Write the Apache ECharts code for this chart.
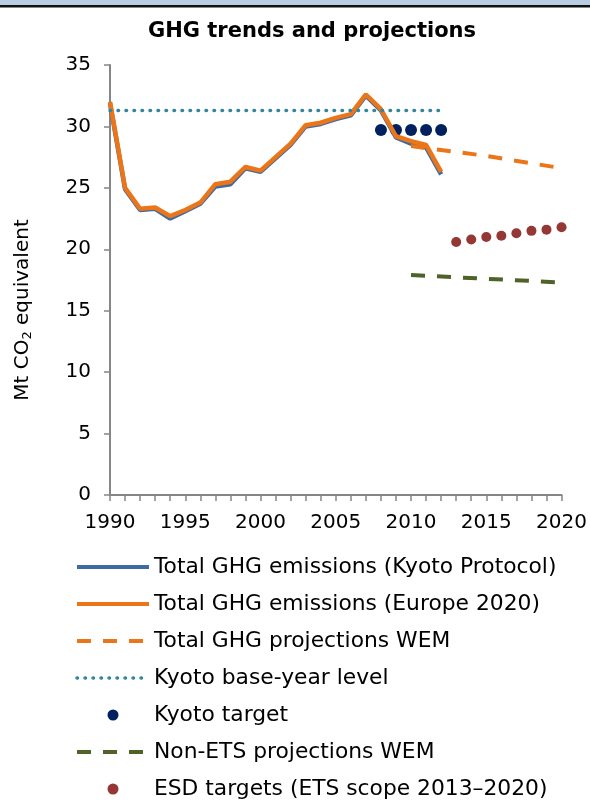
<!DOCTYPE html>
<html>
<head>
<meta charset="utf-8">
<script src="https://cdn.jsdelivr.net/npm/echarts@6/dist/echarts.min.js"></script>
<style>
  html, body { margin: 0; padding: 0; background: #fff; }
  #chart { width: 590px; height: 800px; }
</style>
</head>
<body>
<div id="chart"></div>
<script>
// 历史排放 1990-2012
const years = [1990, 1991, 1992, 1993, 1994, 1995, 1996, 1997, 1998, 1999, 2000, 2001,
  2002, 2003, 2004, 2005, 2006, 2007, 2008, 2009, 2010, 2011, 2012];
const kyotoTotal = [31.9, 24.9, 23.2, 23.3, 22.5, 23.1, 23.7, 25.1, 25.3, 26.6, 26.3, 27.4,
  28.5, 30.0, 30.2, 30.6, 30.9, 32.5, 31.3, 29.1, 28.6, 28.3, 26.1];
const europeTotal = [32.0, 25.0, 23.3, 23.4, 22.7, 23.2, 23.8, 25.3, 25.5, 26.7, 26.4, 27.5,
  28.6, 30.1, 30.3, 30.7, 31.0, 32.6, 31.4, 29.2, 28.8, 28.5, 26.3];

// 预测 (WEM)
const projYears = [2010, 2015, 2020];
const ghgProjection = [28.4, 27.6, 26.6];
const nonEtsProjection = [17.9, 17.6, 17.3];

// 京都基准年水平
const baseYears = [1990, 2012];
const baseLevel = [31.3, 31.3];

// 京都目标
const kyotoYears = [2008, 2009, 2010, 2011, 2012];
const kyotoTarget = [29.7, 29.7, 29.7, 29.7, 29.7];

// ESD 目标
const esdYears = [2013, 2014, 2015, 2016, 2017, 2018, 2019, 2020];
const esdTarget = [20.6, 20.8, 21.0, 21.1, 21.3, 21.5, 21.6, 21.8];

const seriesNames = [
  "Total GHG emissions (Kyoto Protocol)",
  "Total GHG emissions (Europe 2020)",
  "Total GHG projections WEM",
  "Kyoto base-year level",
  "Kyoto target",
  "Non-ETS projections WEM",
  "ESD targets (ETS scope 2013\u20132020)"
];

const font = "'DejaVu Sans', Verdana, sans-serif";

function pairs(xs, ys) {
  return xs.map((x, i) => [x, ys[i]]);
}

// 图例里线条系列只显示线，不显示圆点
function lineItem(name, width) {
  return { name: name, itemStyle: { opacity: 0 }, lineStyle: { width: width } };
}

const chart = echarts.init(document.getElementById("chart"));

const option = {
  animation: false,
  title: {
    text: "GHG trends and projections",
    left: 307,
    top: 16,
    textAlign: "center",
    textStyle: { fontFamily: font, fontSize: 21, fontWeight: "bold", color: "#000" }
  },
  graphic: [
    {
      type: "rect",
      shape: { x: 0, y: 0, width: 590, height: 5 },
      style: { fill: "#b8cce4" }
    },
    {
      type: "rect",
      shape: { x: 0, y: 5, width: 590, height: 2.5 },
      style: { fill: "#111" }
    },
    {
      type: "text",
      x: 23,
      y: 310,
      rotation: Math.PI / 2,
      style: {
        text: "Mt CO{sub|2} equivalent",
        font: "20px " + font,
        fill: "#000",
        align: "center",
        verticalAlign: "middle",
        rich: {
          sub: { fontSize: 13, fontFamily: font, padding: [9, 0, 0, 0], fill: "#000" }
        }
      }
    }
  ],
  grid: {
    left: 110,
    right: 27,
    top: 65,
    bottom: 305
  },
  legend: {
    orient: "vertical",
    left: 75,
    top: 556,
    height: 244,
    padding: 0,
    itemWidth: 72,
    itemHeight: 11,
    itemGap: 15,
    textStyle: { fontFamily: font, fontSize: 21.8, color: "#000", lineHeight: 22 },
    data: [
      lineItem(seriesNames[0], 4),
      lineItem(seriesNames[1], 4),
      lineItem(seriesNames[2], 4),
      lineItem(seriesNames[3], 3.5),
      { name: seriesNames[4], icon: "circle" },
      lineItem(seriesNames[5], 4),
      { name: seriesNames[6], icon: "circle" }
    ]
  },
  xAxis: {
    type: "value",
    min: 1990,
    max: 2020,
    interval: 5,
    axisLine: { lineStyle: { color: "#868686", width: 2 } },
    axisTick: { show: true, length: 6, lineStyle: { color: "#868686", width: 1.5 } },
    minorTick: { show: true, splitNumber: 5, length: 6, lineStyle: { color: "#868686", width: 1.5 } },
    splitLine: { show: false },
    axisLabel: {
      fontFamily: font,
      fontSize: 20,
      color: "#000",
      margin: 18,
      formatter: (v) => String(v)
    }
  },
  yAxis: {
    type: "value",
    min: 0,
    max: 35,
    interval: 5,
    axisLine: { show: true, lineStyle: { color: "#868686", width: 2 } },
    axisTick: { show: true, length: 6, lineStyle: { color: "#868686", width: 1.5 } },
    splitLine: { show: false },
    axisLabel: { fontFamily: font, fontSize: 20, color: "#000", margin: 19 }
  },
  series: [
    {
      name: seriesNames[0],
      type: "line",
      symbol: "none",
      lineStyle: { color: "#3f6ba3", width: 4.5 },
      itemStyle: { color: "#3f6ba3" },
      data: pairs(years, kyotoTotal)
    },
    {
      name: seriesNames[1],
      type: "line",
      symbol: "none",
      lineStyle: { color: "#eb7519", width: 4.5 },
      itemStyle: { color: "#eb7519" },
      data: pairs(years, europeTotal)
    },
    {
      name: seriesNames[2],
      type: "line",
      symbol: "none",
      lineStyle: { color: "#eb7519", width: 4, type: [14, 12] },
      itemStyle: { color: "#eb7519" },
      data: pairs(projYears, ghgProjection)
    },
    {
      name: seriesNames[3],
      type: "line",
      symbol: "none",
      lineStyle: { color: "#31869b", width: 3.5, type: [0.5, 7.5], cap: "round" },
      itemStyle: { color: "#31869b" },
      data: pairs(baseYears, baseLevel)
    },
    {
      name: seriesNames[4],
      type: "scatter",
      symbol: "circle",
      symbolSize: 12,
      itemStyle: { color: "#002060", opacity: 1 },
      data: pairs(kyotoYears, kyotoTarget)
    },
    {
      name: seriesNames[5],
      type: "line",
      symbol: "none",
      lineStyle: { color: "#4f6228", width: 4, type: [14, 12] },
      itemStyle: { color: "#4f6228" },
      data: pairs(projYears, nonEtsProjection)
    },
    {
      name: seriesNames[6],
      type: "scatter",
      symbol: "circle",
      symbolSize: 10,
      itemStyle: { color: "#953735", opacity: 1 },
      data: pairs(esdYears, esdTarget)
    }
  ]
};

chart.setOption(option);
</script>
</body>
</html>
